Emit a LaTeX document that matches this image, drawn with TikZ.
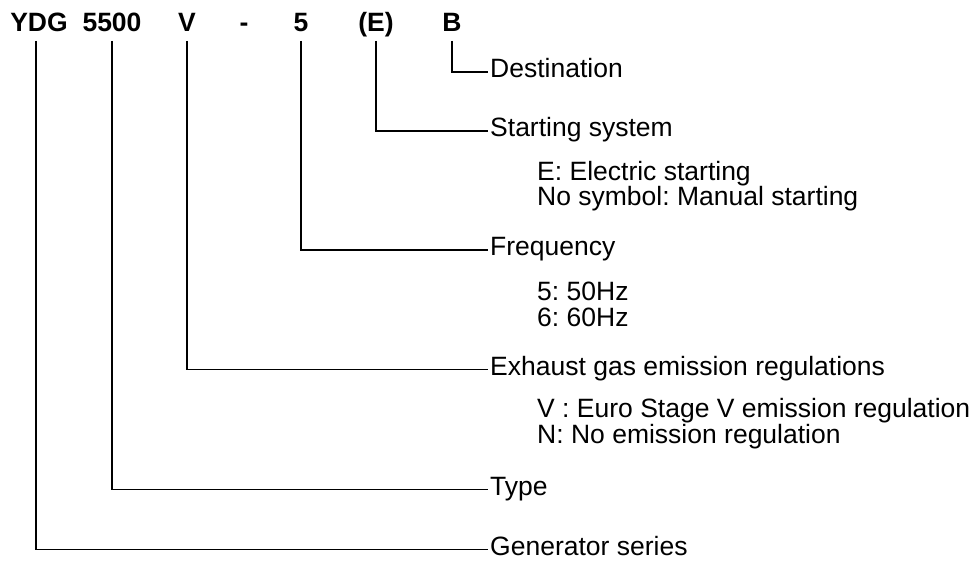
\documentclass[tikz,border=0pt]{standalone}
\usepackage{fontspec}
\setmainfont{Liberation Sans}
\frenchspacing
\begin{document}
\begin{tikzpicture}[x=1pt,y=-1pt,
  hdr/.style={anchor=base,inner sep=0pt,font=\fontsize{26.5}{32}\selectfont\bfseries},
  lbl/.style={anchor=base west,inner sep=0pt,font=\fontsize{26.5}{32}\selectfont},
  conn/.style={draw,line width=1.7pt}]
\useasboundingbox (0,0) rectangle (971,561);
% header
\node[hdr] (ydg) at (39,32) {YDG};
\node[hdr] (type) at (112,32) {5500};
\node[hdr] (v) at (187,32) {V};
\node[hdr] (dash) at (244,32) {-};
\node[hdr] (freq) at (301,32) {5};
\node[hdr] (e) at (376,32) {(E)};
\node[hdr] (b) at (452,32) {B};
% labels
\node[lbl] (dest) at (490,77.5) {Destination};
\node[lbl] (start) at (490,136.5) {Starting system};
\node[lbl] (s1) at (537,181) {E: Electric starting};
\node[lbl] (s2) at (537,206) {No symbol: Manual starting};
\node[lbl] (fr) at (490,255.5) {Frequency};
\node[lbl] (f1) at (537,300) {5: 50Hz};
\node[lbl] (f2) at (537,326) {6: 60Hz};
\node[lbl] (ex) at (490,375) {Exhaust gas emission regulations};
\node[lbl] (x1) at (537,417) {V : Euro Stage V emission regulation};
\node[lbl] (x2) at (537,443) {N: No emission regulation};
\node[lbl] (ty) at (490,495) {Type};
\node[lbl] (gen) at (490,555) {Generator series};
% connectors
\draw[conn] ([yshift=-9pt]b.base) |- ([xshift=-2pt,yshift=5.5pt]dest.base west);
\draw[conn] ([yshift=-9pt]e.base) |- ([xshift=-2pt,yshift=5.5pt]start.base west);
\draw[conn] ([yshift=-9pt]freq.base) |- ([xshift=-2pt,yshift=5.5pt]fr.base west);
\draw[conn] ([yshift=-9pt]v.base) |- ([xshift=-2pt,yshift=5.5pt]ex.base west);
\draw[conn] ([yshift=-9pt]type.base) |- ([xshift=-2pt,yshift=5.5pt]ty.base west);
\draw[conn] ([xshift=-3pt,yshift=-9pt]ydg.base) |- ([xshift=-2pt,yshift=5.5pt]gen.base west);
\end{tikzpicture}
\end{document}
